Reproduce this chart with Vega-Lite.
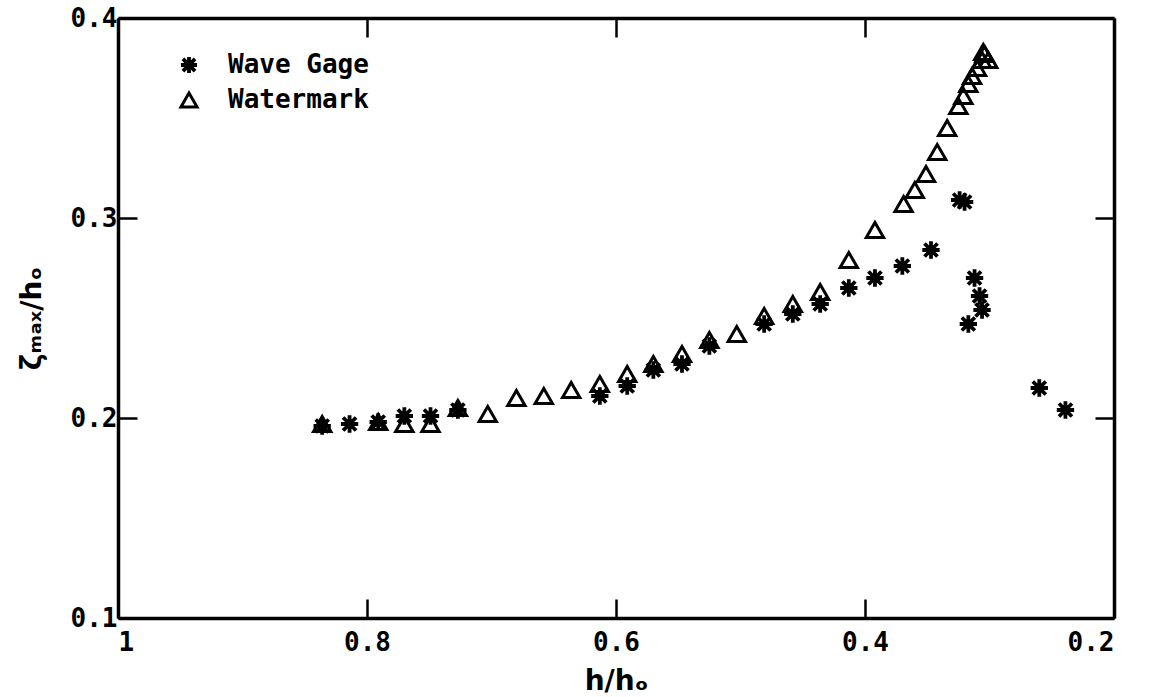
{
  "$schema": "https://vega.github.io/schema/vega-lite/v6.json",
  "width": 996,
  "height": 600,
  "autosize": {"type": "none"},
  "padding": {"left": 118, "top": 18, "right": 40, "bottom": 79},
  "background": "white",
  "config": {
    "view": {"stroke": null},
    "font": "DejaVu Sans Mono",
    "axis": {
      "grid": false,
      "domainColor": "black",
      "domainWidth": 3.5,
      "tickColor": "black",
      "tickWidth": 2.5,
      "tickSize": -19,
      "labelColor": "black",
      "labelFont": "DejaVu Sans Mono",
      "labelFontSize": 26,
      "labelFontWeight": "bold",
      "titleColor": "black",
      "titleFont": "DejaVu Sans",
      "titleFontWeight": "bold",
      "titleFontSize": 28
    }
  },
  "data": {
    "values": [
      {"series": "Wave Gage", "h": 0.836, "z": 0.196},
      {"series": "Wave Gage", "h": 0.814, "z": 0.197},
      {"series": "Wave Gage", "h": 0.791, "z": 0.198},
      {"series": "Wave Gage", "h": 0.770, "z": 0.201},
      {"series": "Wave Gage", "h": 0.749, "z": 0.201},
      {"series": "Wave Gage", "h": 0.727, "z": 0.204},
      {"series": "Wave Gage", "h": 0.613, "z": 0.211},
      {"series": "Wave Gage", "h": 0.591, "z": 0.216},
      {"series": "Wave Gage", "h": 0.570, "z": 0.224},
      {"series": "Wave Gage", "h": 0.547, "z": 0.227},
      {"series": "Wave Gage", "h": 0.525, "z": 0.236},
      {"series": "Wave Gage", "h": 0.481, "z": 0.247},
      {"series": "Wave Gage", "h": 0.458, "z": 0.252},
      {"series": "Wave Gage", "h": 0.436, "z": 0.257},
      {"series": "Wave Gage", "h": 0.413, "z": 0.265},
      {"series": "Wave Gage", "h": 0.392, "z": 0.270},
      {"series": "Wave Gage", "h": 0.370, "z": 0.276},
      {"series": "Wave Gage", "h": 0.347, "z": 0.284},
      {"series": "Wave Gage", "h": 0.324, "z": 0.309},
      {"series": "Wave Gage", "h": 0.320, "z": 0.308},
      {"series": "Wave Gage", "h": 0.312, "z": 0.270},
      {"series": "Wave Gage", "h": 0.308, "z": 0.261},
      {"series": "Wave Gage", "h": 0.306, "z": 0.254},
      {"series": "Wave Gage", "h": 0.317, "z": 0.247},
      {"series": "Wave Gage", "h": 0.260, "z": 0.215},
      {"series": "Wave Gage", "h": 0.239, "z": 0.204},
      {"series": "Watermark", "h": 0.836, "z": 0.197},
      {"series": "Watermark", "h": 0.791, "z": 0.198},
      {"series": "Watermark", "h": 0.770, "z": 0.197},
      {"series": "Watermark", "h": 0.749, "z": 0.197},
      {"series": "Watermark", "h": 0.727, "z": 0.205},
      {"series": "Watermark", "h": 0.703, "z": 0.202},
      {"series": "Watermark", "h": 0.680, "z": 0.210},
      {"series": "Watermark", "h": 0.658, "z": 0.211},
      {"series": "Watermark", "h": 0.636, "z": 0.214},
      {"series": "Watermark", "h": 0.613, "z": 0.217},
      {"series": "Watermark", "h": 0.591, "z": 0.222},
      {"series": "Watermark", "h": 0.570, "z": 0.227},
      {"series": "Watermark", "h": 0.547, "z": 0.232},
      {"series": "Watermark", "h": 0.525, "z": 0.239},
      {"series": "Watermark", "h": 0.503, "z": 0.242},
      {"series": "Watermark", "h": 0.481, "z": 0.251},
      {"series": "Watermark", "h": 0.458, "z": 0.257},
      {"series": "Watermark", "h": 0.436, "z": 0.263},
      {"series": "Watermark", "h": 0.413, "z": 0.279},
      {"series": "Watermark", "h": 0.392, "z": 0.294},
      {"series": "Watermark", "h": 0.369, "z": 0.307},
      {"series": "Watermark", "h": 0.360, "z": 0.314},
      {"series": "Watermark", "h": 0.351, "z": 0.322},
      {"series": "Watermark", "h": 0.342, "z": 0.333},
      {"series": "Watermark", "h": 0.334, "z": 0.345},
      {"series": "Watermark", "h": 0.325, "z": 0.356},
      {"series": "Watermark", "h": 0.321, "z": 0.361},
      {"series": "Watermark", "h": 0.317, "z": 0.367},
      {"series": "Watermark", "h": 0.314, "z": 0.371},
      {"series": "Watermark", "h": 0.310, "z": 0.375},
      {"series": "Watermark", "h": 0.306, "z": 0.379},
      {"series": "Watermark", "h": 0.304, "z": 0.382},
      {"series": "Watermark", "h": 0.301, "z": 0.379},
      {"series": "Watermark", "h": 0.305, "z": 0.383}
    ]
  },
  "layer": [
    {
      "mark": {"type": "point", "filled": false, "stroke": "black", "opacity": 1},
      "encoding": {
        "x": {
          "field": "h", "type": "quantitative",
          "scale": {"domain": [1, 0.2], "nice": false, "zero": false},
          "axis": {"orient": "bottom", "values": [1, 0.8, 0.6, 0.4, 0.2], "format": "~g", "title": "h/hₒ", "labelPadding": 30, "labelDx": 8, "titlePadding": 12}
        },
        "y": {
          "field": "z", "type": "quantitative",
          "scale": {"domain": [0.1, 0.4], "nice": false, "zero": false},
          "axis": {"orient": "left", "values": [0.1, 0.2, 0.3, 0.4], "format": ".1f", "title": "ζₘₐₓ/hₒ", "labelPadding": 20, "titlePadding": 24}
        },
        "shape": {
          "field": "series", "type": "nominal",
          "scale": {"domain": ["Wave Gage", "Watermark"], "range": ["M0,-1L0,1M-1,0L1,0M-0.75,-0.75L0.75,0.75M-0.75,0.75L0.75,-0.75", "triangle-up"]},
          "legend": {
            "orient": "none", "legendX": 58, "legendY": 34, "title": null,
            "labelFont": "DejaVu Sans Mono", "labelFontSize": 26, "labelFontWeight": "bold", "labelColor": "black",
            "symbolSize": 260, "symbolStrokeWidth": 3.5, "symbolStrokeColor": "black",
            "labelOffset": 26, "rowPadding": 6, "padding": 0
          }
        },
        "strokeWidth": {
          "field": "series", "type": "nominal",
          "scale": {"domain": ["Wave Gage", "Watermark"], "range": [3.8, 3]},
          "legend": null
        },
        "size": {"value": 300}
      }
    },
    {
      "mark": {"type": "point", "opacity": 0},
      "encoding": {
        "x": {
          "field": "h", "type": "quantitative",
          "scale": {"domain": [1, 0.2], "nice": false, "zero": false},
          "axis": {"orient": "top", "values": [1, 0.8, 0.6, 0.4, 0.2], "labels": false, "title": null}
        },
        "y": {
          "field": "z", "type": "quantitative",
          "scale": {"domain": [0.1, 0.4], "nice": false, "zero": false},
          "axis": {"orient": "right", "values": [0.1, 0.2, 0.3, 0.4], "labels": false, "title": null}
        }
      }
    }
  ],
  "resolve": {"axis": {"x": "independent", "y": "independent"}}
}
